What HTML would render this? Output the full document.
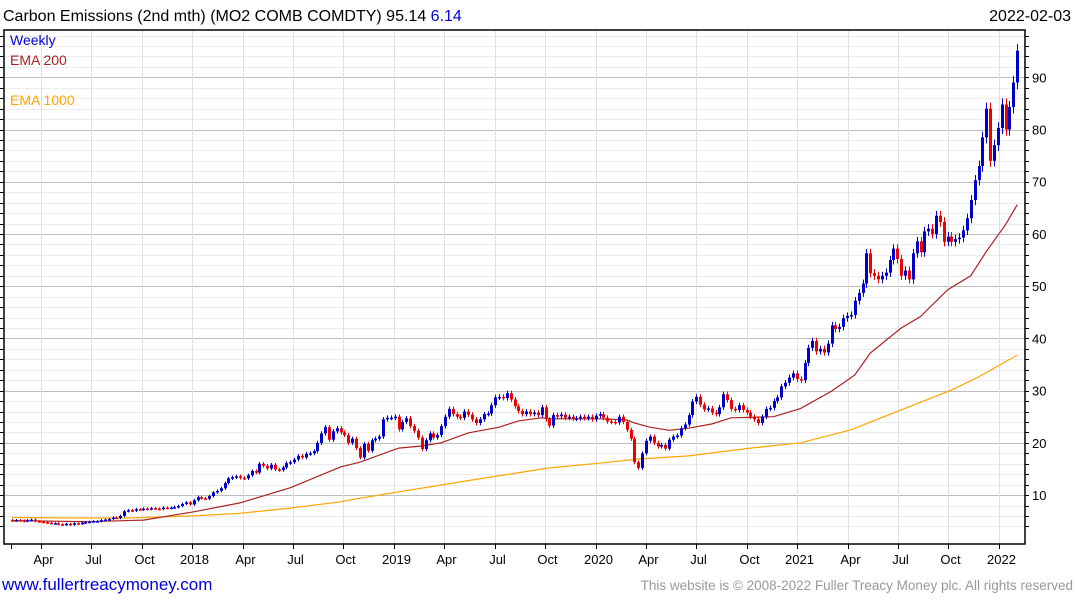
<!DOCTYPE html>
<html><head><meta charset="utf-8">
<style>
body{margin:0;background:#fff;width:1075px;height:600px;overflow:hidden;font-family:"Liberation Sans",sans-serif;}
svg{display:block}
</style></head>
<body>
<svg id="chart" width="1075" height="600">
<text x="3" y="21" font-size="16" fill="#000">Carbon Emissions (2nd mth) (MO2 COMB COMDTY) 95.14 <tspan fill="#0000dd">6.14</tspan></text>
<text x="1071" y="21" font-size="16" fill="#000" text-anchor="end">2022-02-03</text>
<g id="grid"></g>
<g id="emas"></g>
<g id="candles"></g>
<g id="axes"></g>
<text x="10" y="45" font-size="14" fill="#0000dd">Weekly</text>
<text x="10" y="65" font-size="14" fill="#aa2222">EMA 200</text>
<text x="10" y="105" font-size="14" fill="#ffa500">EMA 1000</text>
<text x="2" y="590" font-size="17" fill="#0000dd">www.fullertreacymoney.com</text>
<text x="1073" y="590" font-size="13.5" fill="#999" text-anchor="end">This website is © 2008-2022 Fuller Treacy Money plc. All rights reserved</text>
</svg>
<script>
const closes = [
5.1,5.2,5.1,5.0,5.2,5.3,5.0,4.9,4.8,4.7,
4.6,4.6,4.4,4.3,4.5,4.3,4.6,4.5,4.7,4.8,
4.9,5.0,5.0,5.2,5.3,5.4,5.7,5.6,6.0,6.9,
7.1,7.0,7.3,7.2,7.4,7.3,7.5,7.4,7.3,7.6,
7.5,7.6,7.7,7.9,8.3,8.6,8.2,9.0,9.6,9.4,
9.3,9.8,10.5,10.8,11.3,12.3,13.2,13.4,13.6,13.3,
13.2,13.8,14.6,14.3,16.0,15.6,15.1,15.8,14.9,14.8,
15.3,16.1,16.3,16.8,17.5,17.2,17.9,18.0,18.4,20.0,
21.8,23.0,20.6,22.2,22.8,22.0,21.5,20.0,20.8,19.0,
17.2,19.8,18.5,20.5,20.8,21.2,24.5,24.8,24.8,25.0,
22.6,24.0,24.7,23.2,22.3,21.0,18.8,20.5,21.8,21.0,
21.5,23.2,25.0,26.5,25.5,25.0,24.8,26.0,25.4,24.5,
23.8,24.5,25.5,25.6,27.2,28.7,28.8,28.6,29.5,28.3,
27.0,26.1,25.5,26.0,25.5,25.8,25.3,26.8,24.5,23.3,
25.3,25.1,25.4,24.8,25.0,24.6,24.7,25.0,24.7,25.0,
24.5,25.2,25.5,24.8,24.1,24.0,23.9,25.0,24.0,22.5,
20.8,16.3,15.2,18.0,20.4,21.2,20.0,19.3,19.6,18.9,
20.6,21.2,21.4,22.8,23.5,25.3,27.9,28.8,27.3,26.4,
26.6,25.8,25.5,26.8,29.3,28.2,26.5,26.3,27.2,26.3,
25.8,25.0,24.5,23.8,25.0,26.5,26.7,28.0,28.7,30.8,
31.5,32.5,33.3,32.2,32.0,35.3,38.2,39.5,37.5,38.0,
37.3,39.0,42.5,41.8,42.2,43.9,44.3,44.5,47.2,48.7,
50.5,56.3,52.5,52.0,51.3,52.0,52.6,55.0,57.2,55.2,
52.0,53.0,51.3,56.3,58.6,56.5,60.5,61.0,60.0,63.5,
62.3,58.5,59.5,58.5,59.0,59.3,60.7,63.0,66.5,70.3,
73.0,78.5,84.0,74.0,77.0,80.3,84.8,80.0,84.3,89.0,95.1];
const firstOpen = 5.2;
const ema200Weeks = [0,20,34,47,59,72,85,90,100,106,111,118,126,131,137,139,152,159,161,165,170,175,181,186,197,204,212,218,222,230,235,242,248,252,257,260];
const ema200Values = [5.1,4.9,5.2,6.8,8.5,11.4,15.4,16.3,19,19.4,20,21.9,23,24.2,24.8,24.6,24.6,24.4,23.8,23,22.4,22.8,23.6,24.8,25,26.6,29.9,33,37.2,42,44.2,49.3,52,56.6,61.8,65.6];
const ema1000Weeks = [0,17,30,47,59,72,85,90,120,139,152,162,175,191,204,217,230,243,250,260];
const ema1000Values = [5.7,5.6,5.6,6.0,6.5,7.5,8.7,9.4,13,15.2,16.1,16.9,17.5,19,20,22.5,26.3,30.1,32.6,36.8];
const yTicks = [10,20,30,40,50,60,70,80,90];
const xLabels = ["Apr","Jul","Oct","2018","Apr","Jul","Oct","2019","Apr","Jul","Oct","2020","Apr","Jul","Oct","2021","Apr","Jul","Oct","2022"];

const NS="http://www.w3.org/2000/svg";
const L=4,R=1025,T=30,B=544;
const xw=w=>12+w*3.866;
const yv=v=>77.3+(90-v)*5.222;
function mk(tag,attrs,parent){const e=document.createElementNS(NS,tag);for(const k in attrs)e.setAttribute(k,attrs[k]);parent.appendChild(e);return e;}
const grid=document.getElementById('grid'),axes=document.getElementById('axes'),cg=document.getElementById('candles'),eg=document.getElementById('emas');
for(let v=4;v<=98;v+=2){const y=Math.round(yv(v))+0.5;if(y<T||y>B)continue;
 const major=v%10===0;
 const l=mk('line',{x1:L,x2:R,y1:y,y2:y,stroke:major?'#bdbdbd':'#ececec','stroke-width':1},grid);
 
 
 const t=mk('line',{x1:R,x2:R+4,y1:y,y2:y,stroke:'#000'},axes);
 
 
 const t2=mk('line',{x1:L-4,x2:L,y1:y,y2:y,stroke:'#000'},axes);
 
 
}
yTicks.forEach(v=>{const tx=mk('text',{x:1032,y:yv(v)+5,'font-size':13,fill:'#000'},axes);tx.textContent=v;
 
 });
xLabels.forEach((lab,i)=>{const x=Math.round(xw(7.5+13.04*i))+0.5;
 const g=mk('line',{x1:x,x2:x,y1:T,y2:B,stroke:'#e0e0e0'},grid);
 
 
 const t=mk('line',{x1:x,x2:x,y1:B,y2:B+5,stroke:'#000'},axes);
 
 
 const tx=mk('text',{x:x+2,y:564,'font-size':13,fill:'#000','text-anchor':'middle'},axes);tx.textContent=lab;
 
 });
const t0=mk('line',{x1:11.5,x2:11.5,y1:B,y2:B+5,stroke:'#000'},axes);


const fr=mk('path',{d:`M${L} ${T}H${R}V${B}H${L}Z`,fill:'none',stroke:'#000','stroke-width':1.5},axes);


function line(ws,vs,color,name){const d=ws.map((w,i)=>(i?'L':'M')+xw(w).toFixed(1)+' '+yv(vs[i]).toFixed(1)).join('');
 const p=mk('path',{d:d,fill:'none',stroke:color,'stroke-width':1.2},eg);
 
 }
line(ema1000Weeks,ema1000Values,'#ffa500','ema-1000-line');
line(ema200Weeks,ema200Values,'#aa2222','ema-200-line');
closes.forEach((c,i)=>{const o=i?closes[i-1]:firstOpen;const up=c>=o;const col=up?'#0000cc':'#ee0000';
 const hi=Math.max(o,c),lo=Math.min(o,c),wk=0.15+hi*0.012;const x=Math.round(xw(i))+0.5;
 const w=mk('line',{x1:x,x2:x,y1:yv(hi+wk),y2:yv(lo-wk),stroke:col,'stroke-width':1},cg);
 
 
 const h=Math.max(1.5,yv(lo)-yv(hi));
 const r=mk('rect',{x:x-1.5,y:yv(hi),width:3,height:h,fill:col},cg);
 
 });
</script>
</body></html>
